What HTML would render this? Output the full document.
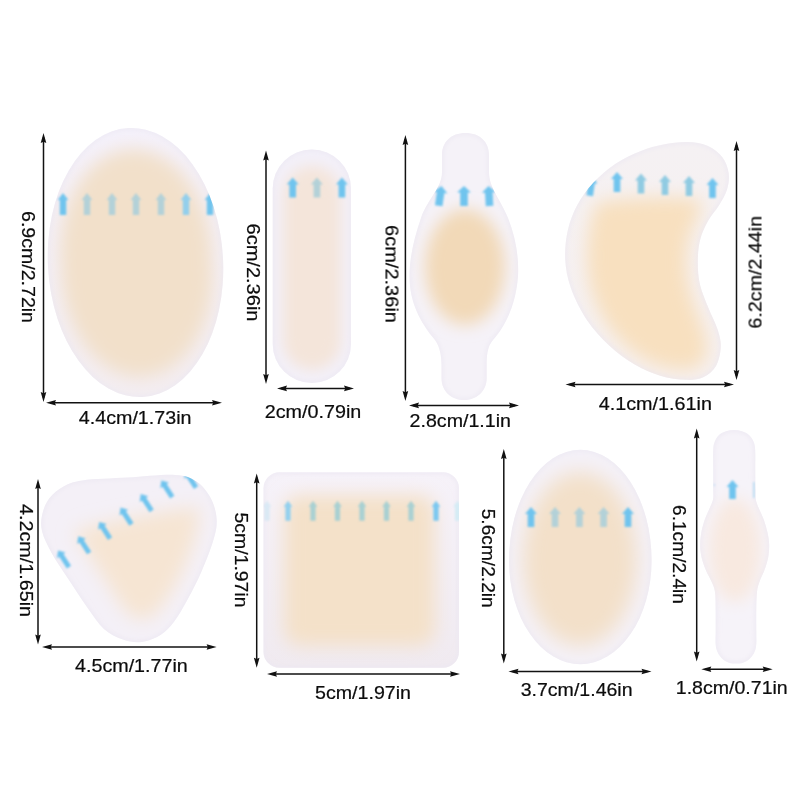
<!DOCTYPE html>
<html lang="en"><head><meta charset="utf-8"><title>Hydrocolloid patch sizes</title>
<style>
html,body{margin:0;padding:0;background:#fff;}
body{width:800px;height:800px;overflow:hidden;}
svg{display:block;}
svg text{font-family:"Liberation Sans", sans-serif;font-size:19px;fill:#0a0a0a;stroke:#0a0a0a;stroke-width:0.22px;}
</style></head><body>
<svg width="800" height="800" viewBox="0 0 800 800">
<rect width="800" height="800" fill="#fff"/>
<defs>
<linearGradient id="film4" x1="0" y1="0" x2="0" y2="1"><stop offset="0" stop-color="#f5f1f3"/><stop offset="1" stop-color="#f6f0ef"/></linearGradient>
<linearGradient id="film6" x1="0" y1="0" x2="0" y2="1"><stop offset="0" stop-color="#f6f2f9"/><stop offset="1" stop-color="#f0eaf0"/></linearGradient>
<linearGradient id="film" x1="0" y1="0" x2="0" y2="1"><stop offset="0" stop-color="#f4f1fb"/><stop offset="1" stop-color="#f3edf1"/></linearGradient>
<filter id="soft" x="-10%" y="-10%" width="120%" height="120%"><feGaussianBlur stdDeviation="0.7"/></filter>
<filter id="b05" x="-20%" y="-20%" width="140%" height="140%"><feGaussianBlur stdDeviation="0.8"/></filter>
<filter id="b15" x="-10%" y="-10%" width="120%" height="120%"><feGaussianBlur stdDeviation="2"/></filter>
<filter id="b6" x="-50%" y="-50%" width="200%" height="200%"><feGaussianBlur stdDeviation="6"/></filter>
<filter id="b7" x="-50%" y="-50%" width="200%" height="200%"><feGaussianBlur stdDeviation="7"/></filter>
<filter id="b8" x="-50%" y="-50%" width="200%" height="200%"><feGaussianBlur stdDeviation="8"/></filter>
<filter id="b9" x="-50%" y="-50%" width="200%" height="200%"><feGaussianBlur stdDeviation="9"/></filter>
<filter id="b10" x="-50%" y="-50%" width="200%" height="200%"><feGaussianBlur stdDeviation="10"/></filter>
<clipPath id="c1"><ellipse cx="135.5" cy="262.5" rx="87.6" ry="134.7" transform="rotate(-3 135.5 262.5)"/></clipPath>
<clipPath id="c2"><rect x="272.7" y="149.5" width="78.3" height="233.5" rx="39" ry="39"/></clipPath>
<clipPath id="c3"><path d="M465.5 133 C480 133 489 142 489 155 L489 172 C489 188 500 198 508 218 C516 238 519 258 518 276 C516 306 504 328 493 340 C487 347 486.7 356 486.7 366 L486.7 378 C486.7 392 476 400 464 400 C452 400 441.5 392 441.5 378 L441.5 366 C441.5 356 440 347 435 340 C420 322 409.5 302 409.5 276 C409.5 258 414 238 421 218 C428 198 442 188 442 172 L442 155 C442 142 451 133 465.5 133Z"/></clipPath>
<clipPath id="c4"><path d="M687.3 142.0 C694.7 142.2 702.1 143.4 708.0 146.0 C713.9 148.6 718.9 152.8 722.4 157.3 C725.9 161.9 727.9 168.0 728.7 173.3 C729.5 178.6 728.7 183.9 727.1 189.2 C725.5 194.5 722.4 199.7 719.2 205.0 C716.0 210.3 711.2 215.1 708.0 221.0 C704.8 226.9 701.7 233.3 700.0 240.2 C698.3 247.1 697.8 255.1 697.8 262.5 C697.8 269.9 698.3 277.4 700.0 284.8 C701.7 292.2 705.1 299.6 708.0 307.0 C710.9 314.4 715.5 322.8 717.6 329.5 C719.7 336.2 721.1 340.9 720.8 347.0 C720.5 353.1 718.9 360.9 716.0 366.0 C713.1 371.1 708.2 375.0 703.2 377.3 C698.2 379.6 692.9 380.1 685.7 379.8 C678.5 379.5 668.7 378.2 660.2 375.7 C651.7 373.1 643.2 369.6 634.7 364.5 C626.2 359.4 617.2 352.8 609.2 345.4 C601.2 338.0 593.3 329.5 586.9 319.9 C580.5 310.3 574.5 298.1 570.9 288.0 C567.3 277.9 565.7 268.9 565.2 259.3 C564.7 249.7 565.8 239.6 567.8 230.6 C569.8 221.6 573.0 213.1 577.3 205.1 C581.5 197.1 586.9 189.7 593.3 182.8 C599.7 175.9 607.6 169.0 615.6 163.7 C623.6 158.4 633.0 154.2 641.0 151.0 C649.0 147.8 655.7 146.1 663.4 144.6 C671.1 143.1 679.9 141.8 687.3 142.0Z"/></clipPath>
<clipPath id="c5"><path d="M82.5 480.4 C93.2 478.9 112.6 478.5 128.0 477.6 C143.4 476.7 163.7 474.3 175.1 475.0 C186.5 475.7 190.6 477.7 196.5 481.6 C202.4 485.5 207.4 492.0 210.8 498.3 C214.2 504.6 216.3 512.5 216.7 519.6 C217.1 526.7 215.7 532.3 213.1 541.0 C210.5 549.7 205.7 562.0 201.3 571.9 C197.0 581.8 191.6 592.1 187.0 600.4 C182.4 608.7 178.3 616.1 174.0 621.8 C169.7 627.5 166.2 631.4 160.9 634.8 C155.6 638.2 148.2 641.2 141.9 642.0 C135.6 642.8 129.2 641.8 122.9 639.6 C116.6 637.4 109.8 634.2 103.9 628.9 C98.0 623.5 93.2 615.8 87.3 607.5 C81.4 599.2 74.2 588.1 68.3 579.0 C62.3 569.9 56.0 560.8 51.6 552.9 C47.2 545.0 43.7 537.8 42.1 531.5 C40.5 525.2 40.9 520.4 42.1 514.9 C43.3 509.4 45.7 503.1 49.3 498.3 C52.9 493.6 58.0 489.4 63.5 486.4 C69.0 483.4 71.8 481.9 82.5 480.4Z"/></clipPath>
<clipPath id="c6"><rect x="263.5" y="472.3" width="195.5" height="195.5" rx="16"/></clipPath>
<clipPath id="c7"><path d="M509 560.5 A71.3 110.8 0 0 1 651.6 560.5 A71.3 103.8 0 0 1 509 560.5Z"/></clipPath>
<clipPath id="c8"><path d="M734.0 430.0 C736.7 430.0 739.5 430.4 742.0 431.2 C744.5 432.0 747.1 433.3 749.0 435.0 C750.9 436.7 752.5 439.0 753.5 441.5 C754.5 444.0 754.9 445.2 755.2 450.0 C755.5 454.8 755.2 463.3 755.3 470.0 C755.3 476.7 755.4 485.1 755.5 490.0 C755.6 494.9 755.3 496.5 755.8 499.5 C756.3 502.5 757.3 504.6 758.7 508.0 C760.1 511.4 762.5 516.1 764.0 520.2 C765.5 524.3 766.6 528.4 767.5 532.5 C768.4 536.6 769.1 540.6 769.2 544.7 C769.3 548.8 769.0 552.9 768.3 557.0 C767.6 561.1 766.2 565.1 764.8 569.2 C763.3 573.3 760.9 577.7 759.6 581.5 C758.3 585.3 757.5 587.2 757.0 592.0 C756.5 596.8 756.4 603.7 756.3 610.0 C756.2 616.3 756.3 624.3 756.3 630.0 C756.3 635.7 756.6 640.3 756.3 644.0 C756.0 647.7 755.6 649.5 754.5 652.0 C753.4 654.5 751.4 657.2 749.5 659.0 C747.6 660.8 745.2 661.9 743.0 662.7 C740.8 663.5 738.3 663.6 736.0 663.6 C733.7 663.6 731.2 663.5 729.0 662.7 C726.8 661.9 724.4 660.8 722.5 659.0 C720.6 657.2 718.6 654.5 717.5 652.0 C716.4 649.5 715.9 647.7 715.6 644.0 C715.3 640.3 715.7 635.7 715.7 630.0 C715.7 624.3 715.7 616.3 715.6 610.0 C715.5 603.7 715.7 596.8 715.0 592.0 C714.3 587.2 713.0 585.0 711.5 581.5 C710.0 578.0 707.8 574.8 706.2 571.0 C704.6 567.2 702.9 562.8 701.9 558.7 C700.9 554.6 700.2 550.6 700.1 546.5 C700.0 542.4 700.3 538.6 701.0 534.2 C701.7 529.8 703.0 524.6 704.5 520.2 C706.0 515.8 708.3 511.4 709.7 508.0 C711.1 504.6 712.4 502.5 713.0 499.5 C713.6 496.5 713.2 494.9 713.2 490.0 C713.2 485.1 713.2 476.7 713.2 470.0 C713.2 463.3 712.9 454.8 713.2 450.0 C713.5 445.2 713.8 444.0 714.8 441.5 C715.8 439.0 717.1 436.7 719.0 435.0 C720.9 433.3 723.5 432.0 726.0 431.2 C728.5 430.4 731.3 430.0 734.0 430.0Z"/></clipPath>
</defs>
<g id="patch1">
<g fill="url(#film)" filter="url(#soft)"><ellipse cx="135.5" cy="262.5" rx="87.6" ry="134.7" transform="rotate(-3 135.5 262.5)"/></g>
<g clip-path="url(#c1)">
<g fill="none" stroke="#ece8f2" stroke-width="3" filter="url(#b15)"><ellipse cx="135.5" cy="262.5" rx="87.6" ry="134.7" transform="rotate(-3 135.5 262.5)"/></g>
<rect x="60.5" y="149" width="152" height="228" rx="76" ry="106" fill="#f2e0ca" filter="url(#b9)" transform="rotate(-3 135.5 262.5)"/>
<g filter="url(#b05)"><path transform="translate(63 193) rotate(0)" d="M0 0 L5.4 7 L3.2 7 L3.2 22 L-3.2 22 L-3.2 7 L-5.4 7Z" fill="#70c4ee" opacity="1"/><path transform="translate(87 193) rotate(0)" d="M0 0 L5.4 7 L3.2 7 L3.2 22 L-3.2 22 L-3.2 7 L-5.4 7Z" fill="#b3d1d8" opacity="1"/><path transform="translate(112 193) rotate(0)" d="M0 0 L5.4 7 L3.2 7 L3.2 22 L-3.2 22 L-3.2 7 L-5.4 7Z" fill="#b3d1d8" opacity="1"/><path transform="translate(136 193) rotate(0)" d="M0 0 L5.4 7 L3.2 7 L3.2 22 L-3.2 22 L-3.2 7 L-5.4 7Z" fill="#b3d1d8" opacity="1"/><path transform="translate(161 193) rotate(0)" d="M0 0 L5.4 7 L3.2 7 L3.2 22 L-3.2 22 L-3.2 7 L-5.4 7Z" fill="#b3d1d8" opacity="1"/><path transform="translate(186 193) rotate(0)" d="M0 0 L5.4 7 L3.2 7 L3.2 22 L-3.2 22 L-3.2 7 L-5.4 7Z" fill="#93cfec" opacity="1"/><path transform="translate(210 193) rotate(0)" d="M0 0 L5.4 7 L3.2 7 L3.2 22 L-3.2 22 L-3.2 7 L-5.4 7Z" fill="#70c4ee" opacity="1"/></g>
</g></g>
<g id="patch2">
<g fill="#f3f0f9" filter="url(#soft)"><rect x="272.7" y="149.5" width="78.3" height="233.5" rx="39" ry="39"/></g>
<g clip-path="url(#c2)">
<g fill="none" stroke="#ece8f2" stroke-width="3" filter="url(#b15)"><rect x="272.7" y="149.5" width="78.3" height="233.5" rx="39" ry="39"/></g>
<rect x="283" y="166" width="58" height="204" rx="29" fill="#f4e5da" filter="url(#b7)"/>
<g filter="url(#b05)"><path transform="translate(292.7 177.5) rotate(0)" d="M0 0 L6 7 L3.3 7 L3.3 20 L-3.3 20 L-3.3 7 L-6 7Z" fill="#70c4ee" opacity="1"/><path transform="translate(316.9 177.5) rotate(0)" d="M0 0 L6 7 L3.3 7 L3.3 20 L-3.3 20 L-3.3 7 L-6 7Z" fill="#b3d1d8" opacity="1"/><path transform="translate(341.9 177.5) rotate(0)" d="M0 0 L6 7 L3.3 7 L3.3 20 L-3.3 20 L-3.3 7 L-6 7Z" fill="#70c4ee" opacity="1"/></g>
</g></g>
<g id="patch3">
<g fill="#f5f2f8" filter="url(#soft)"><path d="M465.5 133 C480 133 489 142 489 155 L489 172 C489 188 500 198 508 218 C516 238 519 258 518 276 C516 306 504 328 493 340 C487 347 486.7 356 486.7 366 L486.7 378 C486.7 392 476 400 464 400 C452 400 441.5 392 441.5 378 L441.5 366 C441.5 356 440 347 435 340 C420 322 409.5 302 409.5 276 C409.5 258 414 238 421 218 C428 198 442 188 442 172 L442 155 C442 142 451 133 465.5 133Z"/></g>
<g clip-path="url(#c3)">
<g fill="none" stroke="#ece8f2" stroke-width="3" filter="url(#b15)"><path d="M465.5 133 C480 133 489 142 489 155 L489 172 C489 188 500 198 508 218 C516 238 519 258 518 276 C516 306 504 328 493 340 C487 347 486.7 356 486.7 366 L486.7 378 C486.7 392 476 400 464 400 C452 400 441.5 392 441.5 378 L441.5 366 C441.5 356 440 347 435 340 C420 322 409.5 302 409.5 276 C409.5 258 414 238 421 218 C428 198 442 188 442 172 L442 155 C442 142 451 133 465.5 133Z"/></g>
<ellipse cx="465" cy="267" rx="40" ry="58" fill="#f2d9b8" filter="url(#b8)"/>
<g filter="url(#b05)"><path transform="translate(441.5 186) rotate(8)" d="M0 0 L7 6.5 L3.8 6.5 L3.8 20 L-3.8 20 L-3.8 6.5 L-7 6.5Z" fill="#70c4ee" opacity="1"/><path transform="translate(464 186) rotate(0)" d="M0 0 L7 6.5 L3.8 6.5 L3.8 20 L-3.8 20 L-3.8 6.5 L-7 6.5Z" fill="#70c4ee" opacity="1"/><path transform="translate(488.5 186) rotate(-3)" d="M0 0 L7 6.5 L3.8 6.5 L3.8 20 L-3.8 20 L-3.8 6.5 L-7 6.5Z" fill="#70c4ee" opacity="1"/></g>
</g></g>
<g id="patch4">
<g fill="url(#film4)" filter="url(#soft)"><path d="M687.3 142.0 C694.7 142.2 702.1 143.4 708.0 146.0 C713.9 148.6 718.9 152.8 722.4 157.3 C725.9 161.9 727.9 168.0 728.7 173.3 C729.5 178.6 728.7 183.9 727.1 189.2 C725.5 194.5 722.4 199.7 719.2 205.0 C716.0 210.3 711.2 215.1 708.0 221.0 C704.8 226.9 701.7 233.3 700.0 240.2 C698.3 247.1 697.8 255.1 697.8 262.5 C697.8 269.9 698.3 277.4 700.0 284.8 C701.7 292.2 705.1 299.6 708.0 307.0 C710.9 314.4 715.5 322.8 717.6 329.5 C719.7 336.2 721.1 340.9 720.8 347.0 C720.5 353.1 718.9 360.9 716.0 366.0 C713.1 371.1 708.2 375.0 703.2 377.3 C698.2 379.6 692.9 380.1 685.7 379.8 C678.5 379.5 668.7 378.2 660.2 375.7 C651.7 373.1 643.2 369.6 634.7 364.5 C626.2 359.4 617.2 352.8 609.2 345.4 C601.2 338.0 593.3 329.5 586.9 319.9 C580.5 310.3 574.5 298.1 570.9 288.0 C567.3 277.9 565.7 268.9 565.2 259.3 C564.7 249.7 565.8 239.6 567.8 230.6 C569.8 221.6 573.0 213.1 577.3 205.1 C581.5 197.1 586.9 189.7 593.3 182.8 C599.7 175.9 607.6 169.0 615.6 163.7 C623.6 158.4 633.0 154.2 641.0 151.0 C649.0 147.8 655.7 146.1 663.4 144.6 C671.1 143.1 679.9 141.8 687.3 142.0Z"/></g>
<g clip-path="url(#c4)">
<g fill="none" stroke="#ece8f2" stroke-width="3" filter="url(#b15)"><path d="M687.3 142.0 C694.7 142.2 702.1 143.4 708.0 146.0 C713.9 148.6 718.9 152.8 722.4 157.3 C725.9 161.9 727.9 168.0 728.7 173.3 C729.5 178.6 728.7 183.9 727.1 189.2 C725.5 194.5 722.4 199.7 719.2 205.0 C716.0 210.3 711.2 215.1 708.0 221.0 C704.8 226.9 701.7 233.3 700.0 240.2 C698.3 247.1 697.8 255.1 697.8 262.5 C697.8 269.9 698.3 277.4 700.0 284.8 C701.7 292.2 705.1 299.6 708.0 307.0 C710.9 314.4 715.5 322.8 717.6 329.5 C719.7 336.2 721.1 340.9 720.8 347.0 C720.5 353.1 718.9 360.9 716.0 366.0 C713.1 371.1 708.2 375.0 703.2 377.3 C698.2 379.6 692.9 380.1 685.7 379.8 C678.5 379.5 668.7 378.2 660.2 375.7 C651.7 373.1 643.2 369.6 634.7 364.5 C626.2 359.4 617.2 352.8 609.2 345.4 C601.2 338.0 593.3 329.5 586.9 319.9 C580.5 310.3 574.5 298.1 570.9 288.0 C567.3 277.9 565.7 268.9 565.2 259.3 C564.7 249.7 565.8 239.6 567.8 230.6 C569.8 221.6 573.0 213.1 577.3 205.1 C581.5 197.1 586.9 189.7 593.3 182.8 C599.7 175.9 607.6 169.0 615.6 163.7 C623.6 158.4 633.0 154.2 641.0 151.0 C649.0 147.8 655.7 146.1 663.4 144.6 C671.1 143.1 679.9 141.8 687.3 142.0Z"/></g>
<path d="M601.0 202.0 C610.4 199.8 635.3 198.1 650.6 197.5 C665.9 196.9 684.4 197.2 693.0 198.5 C701.6 199.8 701.2 202.2 702.0 205.5 C702.8 208.8 699.6 212.8 697.5 218.0 C695.4 223.2 691.3 229.6 689.5 237.0 C687.7 244.4 686.5 254.0 686.5 262.5 C686.5 271.0 687.7 279.5 689.5 288.0 C691.3 296.5 694.8 305.5 697.5 313.5 C700.2 321.5 704.1 328.7 705.5 335.8 C706.9 342.9 707.9 350.6 706.0 356.0 C704.1 361.4 699.5 366.3 694.0 368.5 C688.5 370.7 680.9 370.3 673.0 369.0 C665.1 367.7 655.2 365.2 646.5 360.5 C637.8 355.8 628.1 348.7 620.5 341.0 C612.9 333.3 606.1 323.8 601.0 314.5 C595.9 305.2 592.3 294.7 590.0 285.0 C587.7 275.3 587.1 265.7 587.0 256.1 C586.9 246.5 588.3 235.0 589.5 227.4 C590.7 219.8 592.1 214.7 594.0 210.5 C595.9 206.3 591.6 204.2 601.0 202.0Z" fill="#f8e0bf" filter="url(#b9)"/>
<g filter="url(#b05)"><path transform="translate(592.5 176) rotate(8)" d="M0 0 L6 7 L3.3 7 L3.3 20 L-3.3 20 L-3.3 7 L-6 7Z" fill="#70c4ee" opacity="1"/><path transform="translate(617 172) rotate(0)" d="M0 0 L6 7 L3.3 7 L3.3 20 L-3.3 20 L-3.3 7 L-6 7Z" fill="#70c4ee" opacity="1"/><path transform="translate(641 173.5) rotate(0)" d="M0 0 L6 7 L3.3 7 L3.3 20 L-3.3 20 L-3.3 7 L-6 7Z" fill="#90cbe2" opacity="1"/><path transform="translate(665 175) rotate(0)" d="M0 0 L6 7 L3.3 7 L3.3 20 L-3.3 20 L-3.3 7 L-6 7Z" fill="#90cbe2" opacity="1"/><path transform="translate(689 176) rotate(0)" d="M0 0 L6 7 L3.3 7 L3.3 20 L-3.3 20 L-3.3 7 L-6 7Z" fill="#90cbe2" opacity="1"/><path transform="translate(712.5 178) rotate(0)" d="M0 0 L6 7 L3.3 7 L3.3 20 L-3.3 20 L-3.3 7 L-6 7Z" fill="#70c4ee" opacity="1"/></g>
</g></g>
<g id="patch5">
<g fill="#f4f0f7" filter="url(#soft)"><path d="M82.5 480.4 C93.2 478.9 112.6 478.5 128.0 477.6 C143.4 476.7 163.7 474.3 175.1 475.0 C186.5 475.7 190.6 477.7 196.5 481.6 C202.4 485.5 207.4 492.0 210.8 498.3 C214.2 504.6 216.3 512.5 216.7 519.6 C217.1 526.7 215.7 532.3 213.1 541.0 C210.5 549.7 205.7 562.0 201.3 571.9 C197.0 581.8 191.6 592.1 187.0 600.4 C182.4 608.7 178.3 616.1 174.0 621.8 C169.7 627.5 166.2 631.4 160.9 634.8 C155.6 638.2 148.2 641.2 141.9 642.0 C135.6 642.8 129.2 641.8 122.9 639.6 C116.6 637.4 109.8 634.2 103.9 628.9 C98.0 623.5 93.2 615.8 87.3 607.5 C81.4 599.2 74.2 588.1 68.3 579.0 C62.3 569.9 56.0 560.8 51.6 552.9 C47.2 545.0 43.7 537.8 42.1 531.5 C40.5 525.2 40.9 520.4 42.1 514.9 C43.3 509.4 45.7 503.1 49.3 498.3 C52.9 493.6 58.0 489.4 63.5 486.4 C69.0 483.4 71.8 481.9 82.5 480.4Z"/></g>
<g clip-path="url(#c5)">
<g fill="none" stroke="#ece8f2" stroke-width="3" filter="url(#b15)"><path d="M82.5 480.4 C93.2 478.9 112.6 478.5 128.0 477.6 C143.4 476.7 163.7 474.3 175.1 475.0 C186.5 475.7 190.6 477.7 196.5 481.6 C202.4 485.5 207.4 492.0 210.8 498.3 C214.2 504.6 216.3 512.5 216.7 519.6 C217.1 526.7 215.7 532.3 213.1 541.0 C210.5 549.7 205.7 562.0 201.3 571.9 C197.0 581.8 191.6 592.1 187.0 600.4 C182.4 608.7 178.3 616.1 174.0 621.8 C169.7 627.5 166.2 631.4 160.9 634.8 C155.6 638.2 148.2 641.2 141.9 642.0 C135.6 642.8 129.2 641.8 122.9 639.6 C116.6 637.4 109.8 634.2 103.9 628.9 C98.0 623.5 93.2 615.8 87.3 607.5 C81.4 599.2 74.2 588.1 68.3 579.0 C62.3 569.9 56.0 560.8 51.6 552.9 C47.2 545.0 43.7 537.8 42.1 531.5 C40.5 525.2 40.9 520.4 42.1 514.9 C43.3 509.4 45.7 503.1 49.3 498.3 C52.9 493.6 58.0 489.4 63.5 486.4 C69.0 483.4 71.8 481.9 82.5 480.4Z"/></g>
<path d="M82.0 529.0 C99.7 522.7 170.7 509.7 190.0 508.0 C209.3 506.3 197.5 512.8 198.0 519.0 C198.5 525.2 196.7 534.2 193.0 545.0 C189.3 555.8 182.2 572.7 176.0 584.0 C169.8 595.3 161.8 607.2 156.0 613.0 C150.2 618.8 146.0 619.3 141.0 619.0 C136.0 618.7 132.2 617.8 126.0 611.0 C119.8 604.2 111.0 588.8 104.0 578.0 C97.0 567.2 87.7 554.2 84.0 546.0 C80.3 537.8 64.3 535.3 82.0 529.0Z" fill="#f6e5d3" filter="url(#b9)"/>
<g filter="url(#b05)"><g transform="translate(63.5 558.8) rotate(-33)"><path transform="translate(0 -10) rotate(0)" d="M0 0 L5.2 6 L2.5 6 L2.5 20 L-2.5 20 L-2.5 6 L-5.2 6Z" fill="#70c4ee" opacity="1"/></g><g transform="translate(83.7 544.6) rotate(-33)"><path transform="translate(0 -10) rotate(0)" d="M0 0 L5.2 6 L2.5 6 L2.5 20 L-2.5 20 L-2.5 6 L-5.2 6Z" fill="#70c4ee" opacity="1"/></g><g transform="translate(104.6 530.3) rotate(-33)"><path transform="translate(0 -10) rotate(0)" d="M0 0 L5.2 6 L2.5 6 L2.5 20 L-2.5 20 L-2.5 6 L-5.2 6Z" fill="#70c4ee" opacity="1"/></g><g transform="translate(126 516) rotate(-33)"><path transform="translate(0 -10) rotate(0)" d="M0 0 L5.2 6 L2.5 6 L2.5 20 L-2.5 20 L-2.5 6 L-5.2 6Z" fill="#70c4ee" opacity="1"/></g><g transform="translate(146.2 502.5) rotate(-33)"><path transform="translate(0 -10) rotate(0)" d="M0 0 L5.2 6 L2.5 6 L2.5 20 L-2.5 20 L-2.5 6 L-5.2 6Z" fill="#70c4ee" opacity="1"/></g><g transform="translate(166.8 488.8) rotate(-33)"><path transform="translate(0 -10) rotate(0)" d="M0 0 L5.2 6 L2.5 6 L2.5 20 L-2.5 20 L-2.5 6 L-5.2 6Z" fill="#70c4ee" opacity="1"/></g><g transform="translate(190.6 479.3) rotate(-33)"><path transform="translate(0 -10) rotate(0)" d="M0 0 L5.2 6 L2.5 6 L2.5 20 L-2.5 20 L-2.5 6 L-5.2 6Z" fill="#70c4ee" opacity="1"/></g></g>
</g></g>
<g id="patch6">
<g fill="url(#film6)" filter="url(#soft)"><rect x="263.5" y="472.3" width="195.5" height="195.5" rx="16"/></g>
<g clip-path="url(#c6)">
<g fill="none" stroke="#ece8f2" stroke-width="3" filter="url(#b15)"><rect x="263.5" y="472.3" width="195.5" height="195.5" rx="16"/></g>
<rect x="284" y="495" width="151" height="151" rx="16" fill="#f4e1c9" filter="url(#b9)"/>
<g filter="url(#b05)"><path transform="translate(267 500.8) rotate(0)" d="M0 0 L4.4 6 L2.6 6 L2.6 20 L-2.6 20 L-2.6 6 L-4.4 6Z" fill="#bfe4f4" opacity="0.5"/><path transform="translate(288 500.8) rotate(0)" d="M0 0 L4.4 6 L2.6 6 L2.6 20 L-2.6 20 L-2.6 6 L-4.4 6Z" fill="#93d0ee" opacity="1"/><path transform="translate(313 500.8) rotate(0)" d="M0 0 L4.4 6 L2.6 6 L2.6 20 L-2.6 20 L-2.6 6 L-4.4 6Z" fill="#a9d0d2" opacity="1"/><path transform="translate(337.5 500.8) rotate(0)" d="M0 0 L4.4 6 L2.6 6 L2.6 20 L-2.6 20 L-2.6 6 L-4.4 6Z" fill="#a9d0d2" opacity="1"/><path transform="translate(362 500.8) rotate(0)" d="M0 0 L4.4 6 L2.6 6 L2.6 20 L-2.6 20 L-2.6 6 L-4.4 6Z" fill="#a9d0d2" opacity="1"/><path transform="translate(386.5 500.8) rotate(0)" d="M0 0 L4.4 6 L2.6 6 L2.6 20 L-2.6 20 L-2.6 6 L-4.4 6Z" fill="#a9d0d2" opacity="1"/><path transform="translate(411 500.8) rotate(0)" d="M0 0 L4.4 6 L2.6 6 L2.6 20 L-2.6 20 L-2.6 6 L-4.4 6Z" fill="#a9d0d2" opacity="1"/><path transform="translate(436 500.8) rotate(0)" d="M0 0 L4.4 6 L2.6 6 L2.6 20 L-2.6 20 L-2.6 6 L-4.4 6Z" fill="#7cc8f0" opacity="1"/><path transform="translate(457.5 500.8) rotate(0)" d="M0 0 L4.4 6 L2.6 6 L2.6 20 L-2.6 20 L-2.6 6 L-4.4 6Z" fill="#c9ebf5" opacity="0.7"/></g>
</g></g>
<g id="patch7">
<g fill="#f4f1f8" filter="url(#soft)"><path d="M509 560.5 A71.3 110.8 0 0 1 651.6 560.5 A71.3 103.8 0 0 1 509 560.5Z"/></g>
<g clip-path="url(#c7)">
<g fill="none" stroke="#ece8f2" stroke-width="3" filter="url(#b15)"><path d="M509 560.5 A71.3 110.8 0 0 1 651.6 560.5 A71.3 103.8 0 0 1 509 560.5Z"/></g>
<ellipse cx="580" cy="559" rx="57" ry="87" fill="#f3e0c9" filter="url(#b10)"/>
<g filter="url(#b05)"><path transform="translate(531 507) rotate(0)" d="M0 0 L6 7 L3.3 7 L3.3 20 L-3.3 20 L-3.3 7 L-6 7Z" fill="#70c4ee" opacity="1"/><path transform="translate(555 507) rotate(0)" d="M0 0 L6 7 L3.3 7 L3.3 20 L-3.3 20 L-3.3 7 L-6 7Z" fill="#b3d1d8" opacity="1"/><path transform="translate(579.4 507) rotate(0)" d="M0 0 L6 7 L3.3 7 L3.3 20 L-3.3 20 L-3.3 7 L-6 7Z" fill="#b3d1d8" opacity="1"/><path transform="translate(603.6 507) rotate(0)" d="M0 0 L6 7 L3.3 7 L3.3 20 L-3.3 20 L-3.3 7 L-6 7Z" fill="#b3d1d8" opacity="1"/><path transform="translate(628 507) rotate(0)" d="M0 0 L6 7 L3.3 7 L3.3 20 L-3.3 20 L-3.3 7 L-6 7Z" fill="#70c4ee" opacity="1"/></g>
</g></g>
<g id="patch8">
<g fill="#f6f3f9" filter="url(#soft)"><path d="M734.0 430.0 C736.7 430.0 739.5 430.4 742.0 431.2 C744.5 432.0 747.1 433.3 749.0 435.0 C750.9 436.7 752.5 439.0 753.5 441.5 C754.5 444.0 754.9 445.2 755.2 450.0 C755.5 454.8 755.2 463.3 755.3 470.0 C755.3 476.7 755.4 485.1 755.5 490.0 C755.6 494.9 755.3 496.5 755.8 499.5 C756.3 502.5 757.3 504.6 758.7 508.0 C760.1 511.4 762.5 516.1 764.0 520.2 C765.5 524.3 766.6 528.4 767.5 532.5 C768.4 536.6 769.1 540.6 769.2 544.7 C769.3 548.8 769.0 552.9 768.3 557.0 C767.6 561.1 766.2 565.1 764.8 569.2 C763.3 573.3 760.9 577.7 759.6 581.5 C758.3 585.3 757.5 587.2 757.0 592.0 C756.5 596.8 756.4 603.7 756.3 610.0 C756.2 616.3 756.3 624.3 756.3 630.0 C756.3 635.7 756.6 640.3 756.3 644.0 C756.0 647.7 755.6 649.5 754.5 652.0 C753.4 654.5 751.4 657.2 749.5 659.0 C747.6 660.8 745.2 661.9 743.0 662.7 C740.8 663.5 738.3 663.6 736.0 663.6 C733.7 663.6 731.2 663.5 729.0 662.7 C726.8 661.9 724.4 660.8 722.5 659.0 C720.6 657.2 718.6 654.5 717.5 652.0 C716.4 649.5 715.9 647.7 715.6 644.0 C715.3 640.3 715.7 635.7 715.7 630.0 C715.7 624.3 715.7 616.3 715.6 610.0 C715.5 603.7 715.7 596.8 715.0 592.0 C714.3 587.2 713.0 585.0 711.5 581.5 C710.0 578.0 707.8 574.8 706.2 571.0 C704.6 567.2 702.9 562.8 701.9 558.7 C700.9 554.6 700.2 550.6 700.1 546.5 C700.0 542.4 700.3 538.6 701.0 534.2 C701.7 529.8 703.0 524.6 704.5 520.2 C706.0 515.8 708.3 511.4 709.7 508.0 C711.1 504.6 712.4 502.5 713.0 499.5 C713.6 496.5 713.2 494.9 713.2 490.0 C713.2 485.1 713.2 476.7 713.2 470.0 C713.2 463.3 712.9 454.8 713.2 450.0 C713.5 445.2 713.8 444.0 714.8 441.5 C715.8 439.0 717.1 436.7 719.0 435.0 C720.9 433.3 723.5 432.0 726.0 431.2 C728.5 430.4 731.3 430.0 734.0 430.0Z"/></g>
<g clip-path="url(#c8)">
<g fill="none" stroke="#ece8f2" stroke-width="3" filter="url(#b15)"><path d="M734.0 430.0 C736.7 430.0 739.5 430.4 742.0 431.2 C744.5 432.0 747.1 433.3 749.0 435.0 C750.9 436.7 752.5 439.0 753.5 441.5 C754.5 444.0 754.9 445.2 755.2 450.0 C755.5 454.8 755.2 463.3 755.3 470.0 C755.3 476.7 755.4 485.1 755.5 490.0 C755.6 494.9 755.3 496.5 755.8 499.5 C756.3 502.5 757.3 504.6 758.7 508.0 C760.1 511.4 762.5 516.1 764.0 520.2 C765.5 524.3 766.6 528.4 767.5 532.5 C768.4 536.6 769.1 540.6 769.2 544.7 C769.3 548.8 769.0 552.9 768.3 557.0 C767.6 561.1 766.2 565.1 764.8 569.2 C763.3 573.3 760.9 577.7 759.6 581.5 C758.3 585.3 757.5 587.2 757.0 592.0 C756.5 596.8 756.4 603.7 756.3 610.0 C756.2 616.3 756.3 624.3 756.3 630.0 C756.3 635.7 756.6 640.3 756.3 644.0 C756.0 647.7 755.6 649.5 754.5 652.0 C753.4 654.5 751.4 657.2 749.5 659.0 C747.6 660.8 745.2 661.9 743.0 662.7 C740.8 663.5 738.3 663.6 736.0 663.6 C733.7 663.6 731.2 663.5 729.0 662.7 C726.8 661.9 724.4 660.8 722.5 659.0 C720.6 657.2 718.6 654.5 717.5 652.0 C716.4 649.5 715.9 647.7 715.6 644.0 C715.3 640.3 715.7 635.7 715.7 630.0 C715.7 624.3 715.7 616.3 715.6 610.0 C715.5 603.7 715.7 596.8 715.0 592.0 C714.3 587.2 713.0 585.0 711.5 581.5 C710.0 578.0 707.8 574.8 706.2 571.0 C704.6 567.2 702.9 562.8 701.9 558.7 C700.9 554.6 700.2 550.6 700.1 546.5 C700.0 542.4 700.3 538.6 701.0 534.2 C701.7 529.8 703.0 524.6 704.5 520.2 C706.0 515.8 708.3 511.4 709.7 508.0 C711.1 504.6 712.4 502.5 713.0 499.5 C713.6 496.5 713.2 494.9 713.2 490.0 C713.2 485.1 713.2 476.7 713.2 470.0 C713.2 463.3 712.9 454.8 713.2 450.0 C713.5 445.2 713.8 444.0 714.8 441.5 C715.8 439.0 717.1 436.7 719.0 435.0 C720.9 433.3 723.5 432.0 726.0 431.2 C728.5 430.4 731.3 430.0 734.0 430.0Z"/></g>
<ellipse cx="735" cy="550" rx="26" ry="52" fill="#f8e9e0" filter="url(#b8)"/>
<g filter="url(#b05)"><path transform="translate(732.5 480) rotate(0)" d="M0 0 L6 7 L3.3 7 L3.3 19 L-3.3 19 L-3.3 7 L-6 7Z" fill="#70c4ee" opacity="1"/><rect x="753.2" y="482" width="1.6" height="16" fill="#9fd6f3" opacity="0.8"/><rect x="713.5" y="484" width="1.5" height="2" fill="#9fd6f3" opacity="0.7"/></g>
</g></g>
<g id="dims">
<line x1="43.5" y1="137" x2="43.5" y2="398" stroke="#111" stroke-width="1.5"/><path d="M43.5 133 L40.7 143 L43.5 141.8 L46.3 143Z" fill="#111"/><path d="M43.5 402 L40.7 392 L43.5 393.2 L46.3 392Z" fill="#111"/>
<line x1="50" y1="402.8" x2="218" y2="402.8" stroke="#111" stroke-width="1.5"/><path d="M46 402.8 L56 400.0 L54.8 402.8 L56 405.6Z" fill="#111"/><path d="M222 402.8 L212 400.0 L213.2 402.8 L212 405.6Z" fill="#111"/>
<line x1="266" y1="154.5" x2="266" y2="380" stroke="#111" stroke-width="1.5"/><path d="M266 150.5 L263.2 160.5 L266 159.3 L268.8 160.5Z" fill="#111"/><path d="M266 384 L263.2 374 L266 375.2 L268.8 374Z" fill="#111"/>
<line x1="281" y1="388.4" x2="350" y2="388.4" stroke="#111" stroke-width="1.5"/><path d="M277 388.4 L287 385.59999999999997 L285.8 388.4 L287 391.2Z" fill="#111"/><path d="M354 388.4 L344 385.59999999999997 L345.2 388.4 L344 391.2Z" fill="#111"/>
<line x1="405.4" y1="139" x2="405.4" y2="397" stroke="#111" stroke-width="1.5"/><path d="M405.4 135 L402.59999999999997 145 L405.4 143.8 L408.2 145Z" fill="#111"/><path d="M405.4 401 L402.59999999999997 391 L405.4 392.2 L408.2 391Z" fill="#111"/>
<line x1="413" y1="405.4" x2="515" y2="405.4" stroke="#111" stroke-width="1.5"/><path d="M409 405.4 L419 402.59999999999997 L417.8 405.4 L419 408.2Z" fill="#111"/><path d="M519 405.4 L509 402.59999999999997 L510.2 405.4 L509 408.2Z" fill="#111"/>
<line x1="736.5" y1="145" x2="736.5" y2="376" stroke="#111" stroke-width="1.5"/><path d="M736.5 141 L733.7 151 L736.5 149.8 L739.3 151Z" fill="#111"/><path d="M736.5 380 L733.7 370 L736.5 371.2 L739.3 370Z" fill="#111"/>
<line x1="569.5" y1="384.5" x2="730" y2="384.5" stroke="#111" stroke-width="1.5"/><path d="M565.5 384.5 L575.5 381.7 L574.3 384.5 L575.5 387.3Z" fill="#111"/><path d="M734 384.5 L724 381.7 L725.2 384.5 L724 387.3Z" fill="#111"/>
<line x1="38" y1="483" x2="38" y2="640.5" stroke="#111" stroke-width="1.5"/><path d="M38 479 L35.2 489 L38 487.8 L40.8 489Z" fill="#111"/><path d="M38 644.5 L35.2 634.5 L38 635.7 L40.8 634.5Z" fill="#111"/>
<line x1="46" y1="647" x2="212.6" y2="647" stroke="#111" stroke-width="1.5"/><path d="M42 647 L52 644.2 L50.8 647 L52 649.8Z" fill="#111"/><path d="M216.6 647 L206.6 644.2 L207.79999999999998 647 L206.6 649.8Z" fill="#111"/>
<line x1="256.7" y1="477.4" x2="256.7" y2="663.7" stroke="#111" stroke-width="1.5"/><path d="M256.7 473.4 L253.89999999999998 483.4 L256.7 482.2 L259.5 483.4Z" fill="#111"/><path d="M256.7 667.7 L253.89999999999998 657.7 L256.7 658.9000000000001 L259.5 657.7Z" fill="#111"/>
<line x1="271" y1="674" x2="456" y2="674" stroke="#111" stroke-width="1.5"/><path d="M267 674 L277 671.2 L275.8 674 L277 676.8Z" fill="#111"/><path d="M460 674 L450 671.2 L451.2 674 L450 676.8Z" fill="#111"/>
<line x1="503.8" y1="453" x2="503.8" y2="659.6" stroke="#111" stroke-width="1.5"/><path d="M503.8 449 L501.0 459 L503.8 457.8 L506.6 459Z" fill="#111"/><path d="M503.8 663.6 L501.0 653.6 L503.8 654.8000000000001 L506.6 653.6Z" fill="#111"/>
<line x1="512.5" y1="671.5" x2="647.5" y2="671.5" stroke="#111" stroke-width="1.5"/><path d="M508.5 671.5 L518.5 668.7 L517.3 671.5 L518.5 674.3Z" fill="#111"/><path d="M651.5 671.5 L641.5 668.7 L642.7 671.5 L641.5 674.3Z" fill="#111"/>
<line x1="696.7" y1="432.5" x2="696.7" y2="657.5" stroke="#111" stroke-width="1.5"/><path d="M696.7 428.5 L693.9000000000001 438.5 L696.7 437.3 L699.5 438.5Z" fill="#111"/><path d="M696.7 661.5 L693.9000000000001 651.5 L696.7 652.7 L699.5 651.5Z" fill="#111"/>
<line x1="705.3" y1="669.2" x2="768.7" y2="669.2" stroke="#111" stroke-width="1.5"/><path d="M701.3 669.2 L711.3 666.4000000000001 L710.0999999999999 669.2 L711.3 672.0Z" fill="#111"/><path d="M772.7 669.2 L762.7 666.4000000000001 L763.9000000000001 669.2 L762.7 672.0Z" fill="#111"/>
</g>
<g id="labels" opacity="0.99">
<text x="78.8" y="423.5" textLength="112.7" lengthAdjust="spacingAndGlyphs">4.4cm/1.73in</text>
<text x="264.7" y="418.4" textLength="96.6" lengthAdjust="spacingAndGlyphs">2cm/0.79in</text>
<text x="409.6" y="427" textLength="101.4" lengthAdjust="spacingAndGlyphs">2.8cm/1.1in</text>
<text x="598.75" y="410" textLength="113.2" lengthAdjust="spacingAndGlyphs">4.1cm/1.61in</text>
<text x="75" y="671.8" textLength="112.8" lengthAdjust="spacingAndGlyphs">4.5cm/1.77in</text>
<text x="315" y="698.6" textLength="96.0" lengthAdjust="spacingAndGlyphs">5cm/1.97in</text>
<text x="520.7" y="695.8" textLength="111.9" lengthAdjust="spacingAndGlyphs">3.7cm/1.46in</text>
<text x="675.75" y="693.7" textLength="112.0" lengthAdjust="spacingAndGlyphs">1.8cm/0.71in</text>
<text transform="translate(22 211) rotate(90)" textLength="112.0" lengthAdjust="spacingAndGlyphs">6.9cm/2.72in</text>
<text transform="translate(246.5 223.5) rotate(90)" textLength="98.0" lengthAdjust="spacingAndGlyphs">6cm/2.36in</text>
<text transform="translate(385.5 225) rotate(90)" textLength="98.0" lengthAdjust="spacingAndGlyphs">6cm/2.36in</text>
<text transform="translate(761.5 328.6) rotate(-90)" textLength="112.6" lengthAdjust="spacingAndGlyphs">6.2cm/2.44in</text>
<text transform="translate(19.5 504) rotate(90)" textLength="113.0" lengthAdjust="spacingAndGlyphs">4.2cm/1.65in</text>
<text transform="translate(235 512.4) rotate(90)" textLength="95.2" lengthAdjust="spacingAndGlyphs">5cm/1.97in</text>
<text transform="translate(482 508.7) rotate(90)" textLength="99.0" lengthAdjust="spacingAndGlyphs">5.6cm/2.2in</text>
<text transform="translate(673 505) rotate(90)" textLength="99.0" lengthAdjust="spacingAndGlyphs">6.1cm/2.4in</text>
</g>
</svg>
</body></html>
